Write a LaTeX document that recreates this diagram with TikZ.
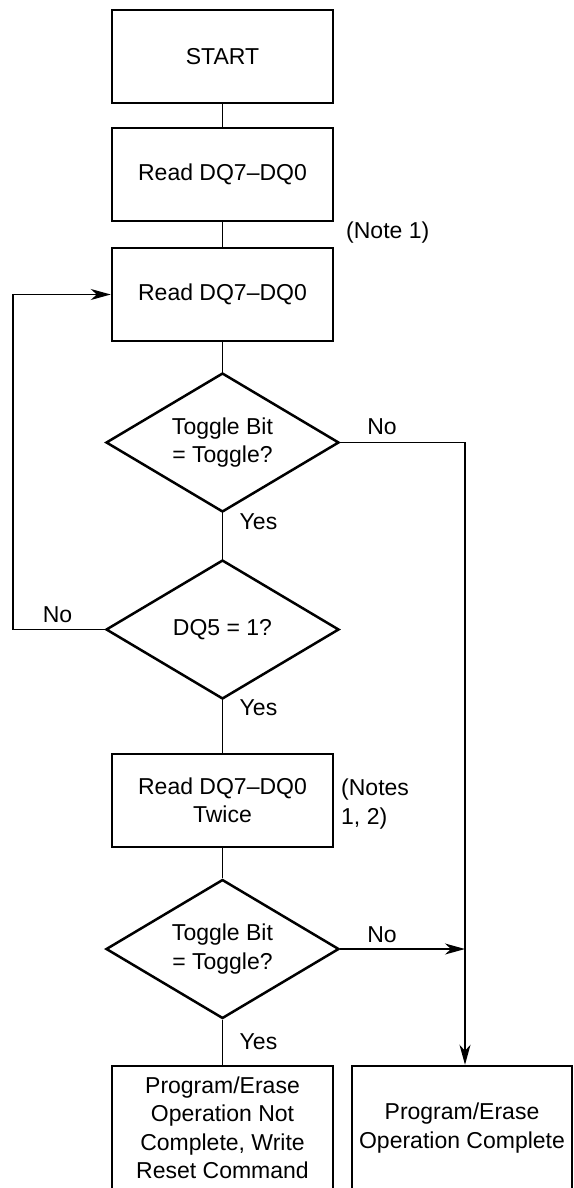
\documentclass[tikz,border=0pt]{standalone}
\usepackage{fontspec}
\setmainfont{Liberation Sans}
\usetikzlibrary{shapes.geometric,arrows.meta}
\begin{document}
\begin{tikzpicture}[x=1pt,y=-1pt,
  txt/.style={font=\fontsize{23}{28.5}\selectfont},
  box/.style={draw,line width=2.5pt,minimum width=221pt,minimum height=93pt,inner sep=0pt,align=center,txt},
  dec/.style={draw,diamond,aspect=1.68,line width=2.5pt,minimum width=233pt,minimum height=139pt,inner sep=0pt,align=center,txt},
  conn/.style={line width=1.3pt},
  arr/.style={conn,-{Stealth[length=20pt,width=11pt,inset=6pt]}},
  lab/.style={txt,inner sep=0pt}]
\useasboundingbox (0,0) rectangle (573,1188);
\clip (0,0) rectangle (573,1188);
% boxes
\node[box] (start) at (222.5,56.5) {START};
\node[box] (r1) at (222.5,174.5) {Read DQ7--DQ0};
\node[box] (r2) at (222.5,294.5) {Read DQ7--DQ0};
\node[dec] (d1) at (222.5,442.5) {Toggle Bit\\= Toggle?};
\node[dec] (d2) at (222.5,629.5) {DQ5 = 1?};
\node[box] (r3) at (222.5,800.5) {Read DQ7--DQ0\\Twice};
\node[dec] (d3) at (222.5,949) {Toggle Bit\\= Toggle?};
\node[box,minimum height=124pt] (fail) at (222.5,1128) {Program/Erase\\Operation Not\\Complete, Write\\Reset Command};
\node[box,minimum height=124pt,minimum width=220pt] (done) at (462,1128) {Program/Erase\\Operation Complete};
% labels
\node[lab] (n1) at (346,233) [anchor=west] {(Note 1)};
\node[lab,align=left,anchor=west] (n2) at (341,804) {(Notes\\1, 2)};
\node[lab] (no1) at (382,427) {No};
\node[lab] (yes1) at (258.5,522) {Yes};
\node[lab] (no2) at (57.5,615) {No};
\node[lab] (yes2) at (258.5,708) {Yes};
\node[lab] (no3) at (382,935) {No};
\node[lab] (yes3) at (258.5,1042) {Yes};
% helper coordinates
\coordinate (lx) at (13,0);
\coordinate (rx) at (465,0);
% connectors
\draw[conn] (start) -- (r1);
\draw[conn] (r1) -- (r2);
\draw[conn] (r2) -- (d1);
\draw[conn] (d1) -- (d2);
\draw[conn] (d2) -- (r3);
\draw[conn] (r3) -- (d3);
\draw[conn] (d3) -- (fail);
\draw[arr] (d1.east) -- (d1.east -| rx) -- (rx |- done.north);
\draw[arr] (d3.east) -- (d3.east -| rx);
\draw[arr] (d2.west) -- (d2.west -| lx) |- (r2.west);
\end{tikzpicture}
\end{document}
